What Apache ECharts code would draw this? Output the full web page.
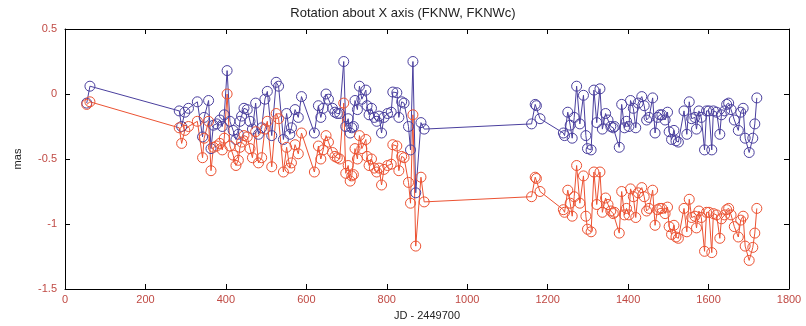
<!DOCTYPE html>
<html><head><meta charset="utf-8">
<script src="https://cdn.jsdelivr.net/npm/echarts@6/dist/echarts.min.js"></script>
<style>html,body{margin:0;padding:0;background:#fff}#c{width:806px;height:326px}</style>
</head><body><div id="c"></div><script>
const titleText = 'Rotation about X axis (FKNW, FKNWc)';
const xName = 'JD - 2449700';
const yName = 'mas';
const jd = [54,62,284,290,298,307,329,342,346,357,363,369,377,385,391,396,403,410,418,425,431,435,439,445,453,460,466,474,481,489,497,503,514,525,531,543,551,559,563,572,580,588,620,630,636,642,649,655,665,671,677,683,693,698,704,709,713,717,721,727,732,738,748,751,756,762,769,775,781,787,793,802,811,815,825,830,837,843,854,859,865,872,885,893,1160,1169,1172,1181,1239,1242,1250,1256,1261,1266,1272,1280,1289,1295,1299,1308,1315,1322,1330,1336,1344,1350,1357,1363,1366,1378,1384,1391,1396,1402,1406,1413,1419,1425,1434,1440,1446,1452,1461,1467,1473,1479,1484,1492,1498,1502,1508,1514,1519,1525,1539,1546,1552,1558,1566,1570,1576,1582,1590,1595,1601,1608,1612,1620,1628,1632,1640,1645,1650,1656,1664,1674,1680,1686,1691,1701,1710,1715,1720];
const fknw = [-0.07,0.06,-0.13,-0.25,-0.14,-0.11,-0.06,-0.33,-0.18,-0.05,-0.42,-0.24,-0.23,-0.20,-0.25,-0.16,0.18,-0.21,-0.28,-0.35,-0.31,-0.21,-0.17,-0.11,-0.12,-0.21,-0.27,-0.07,-0.31,-0.26,-0.04,0.02,-0.32,0.09,0.06,-0.35,-0.15,-0.31,-0.26,-0.12,-0.18,-0.02,-0.30,-0.09,-0.18,-0.11,0.00,-0.04,-0.11,-0.14,-0.15,-0.15,0.25,-0.25,-0.19,-0.30,-0.26,-0.25,-0.05,-0.12,0.06,-0.04,0.03,-0.09,-0.16,-0.11,-0.18,-0.21,-0.17,-0.30,-0.18,-0.15,-0.14,0.015,0.01,-0.18,-0.06,-0.07,-0.25,-0.43,0.25,-0.76,-0.22,-0.27,-0.23,-0.08,-0.09,-0.19,-0.30,-0.32,-0.14,-0.24,-0.34,-0.18,0.06,-0.23,-0.01,-0.32,-0.42,-0.43,0.03,-0.22,0.04,-0.27,-0.15,-0.20,-0.25,-0.26,-0.25,-0.41,-0.08,-0.26,-0.21,-0.25,-0.05,-0.11,-0.26,-0.07,-0.02,-0.09,-0.20,-0.18,-0.03,-0.30,-0.18,-0.16,-0.16,-0.20,-0.14,-0.29,-0.35,-0.28,-0.36,-0.37,-0.13,-0.31,-0.06,-0.19,-0.18,-0.27,-0.13,-0.18,-0.43,-0.13,-0.13,-0.43,-0.13,-0.14,-0.31,-0.16,-0.13,-0.08,-0.07,-0.12,-0.20,-0.28,-0.14,-0.11,-0.34,-0.45,-0.34,-0.23,-0.03];
const fknwc = [-0.08,-0.06,-0.26,-0.38,-0.28,-0.25,-0.21,-0.49,-0.34,-0.21,-0.59,-0.41,-0.40,-0.38,-0.43,-0.34,0.00,-0.40,-0.47,-0.55,-0.51,-0.41,-0.37,-0.32,-0.33,-0.42,-0.49,-0.29,-0.53,-0.49,-0.27,-0.21,-0.56,-0.15,-0.19,-0.60,-0.41,-0.57,-0.53,-0.39,-0.46,-0.30,-0.60,-0.40,-0.50,-0.43,-0.32,-0.37,-0.45,-0.48,-0.49,-0.50,-0.07,-0.61,-0.55,-0.67,-0.63,-0.62,-0.42,-0.50,-0.32,-0.42,-0.35,-0.48,-0.55,-0.50,-0.57,-0.60,-0.57,-0.70,-0.58,-0.55,-0.54,-0.39,-0.40,-0.59,-0.48,-0.49,-0.68,-0.84,-0.16,-1.17,-0.64,-0.83,-0.79,-0.64,-0.65,-0.75,-0.89,-0.91,-0.74,-0.84,-0.94,-0.79,-0.55,-0.84,-0.63,-0.94,-1.04,-1.06,-0.60,-0.85,-0.60,-0.91,-0.80,-0.85,-0.90,-0.92,-0.91,-1.07,-0.75,-0.93,-0.88,-0.93,-0.73,-0.79,-0.95,-0.76,-0.72,-0.79,-0.90,-0.88,-0.74,-1.01,-0.89,-0.88,-0.88,-0.92,-0.87,-1.02,-1.08,-1.01,-1.10,-1.11,-0.88,-1.06,-0.81,-0.95,-0.94,-1.03,-0.90,-0.95,-1.21,-0.91,-0.91,-1.22,-0.92,-0.93,-1.11,-0.96,-0.93,-0.89,-0.88,-0.93,-1.02,-1.10,-0.97,-0.94,-1.17,-1.28,-1.18,-1.07,-0.88];
const xRange = [0, 1800, 200];
const yRange = [-1.5, 0.5, 0.5];

const FONT = '"Liberation Sans", Arial, sans-serif';
const LABEL_COLOR = '#c04a44';
const BLUE = '#4a3f9e';
const RED = '#ec5232';

function pairs(xs, ys){ return xs.map((x,i)=>[x, ys[i]]); }
function axisBase(range, extra){
  return Object.assign({
    type:'value', min:range[0], max:range[1], interval:range[2],
    axisLine:{show:true,onZero:false,lineStyle:{color:'#000',width:1}},
    axisTick:{show:true,inside:true,length:5,lineStyle:{color:'#000',width:1}},
    splitLine:{show:false}
  }, extra);
}
function lineSeries(name, ys, col){
  return {name:name,type:'line',data:pairs(jd,ys),symbol:'circle',symbolSize:10,showAllSymbol:true,
    lineStyle:{color:col,width:1},
    itemStyle:{color:'rgba(0,0,0,0)',borderColor:col,borderWidth:1}};
}

const chart = echarts.init(document.getElementById('c'), null, {renderer:'canvas'});
chart.setOption({
  animation:false,
  backgroundColor:'#fff',
  title:{text:titleText,left:'center',top:2,textStyle:{fontFamily:FONT,fontSize:13,fontWeight:'normal',color:'#222'}},
  grid:{left:65,right:17,top:29,bottom:37},
  xAxis:[
    axisBase(xRange,{position:'bottom',
      axisLabel:{color:LABEL_COLOR,fontSize:11,fontFamily:FONT,margin:5,formatter:v=>String(v)},
      name:xName,nameLocation:'middle',nameGap:21,
      nameTextStyle:{color:'#222',fontSize:11,fontFamily:FONT}}),
    axisBase(xRange,{position:'top',axisLabel:{show:false}})
  ],
  yAxis:[
    axisBase(yRange,{position:'left',
      axisLabel:{color:LABEL_COLOR,fontSize:11,fontFamily:FONT,margin:8},
      name:yName,nameLocation:'middle',nameGap:42,
      nameTextStyle:{color:'#222',fontSize:11,fontFamily:FONT}}),
    axisBase(yRange,{position:'right',axisLabel:{show:false}})
  ],
  series:[
    lineSeries('FKNW', fknw, BLUE),
    lineSeries('FKNWc', fknwc, RED)
  ]
});
</script></body></html>
